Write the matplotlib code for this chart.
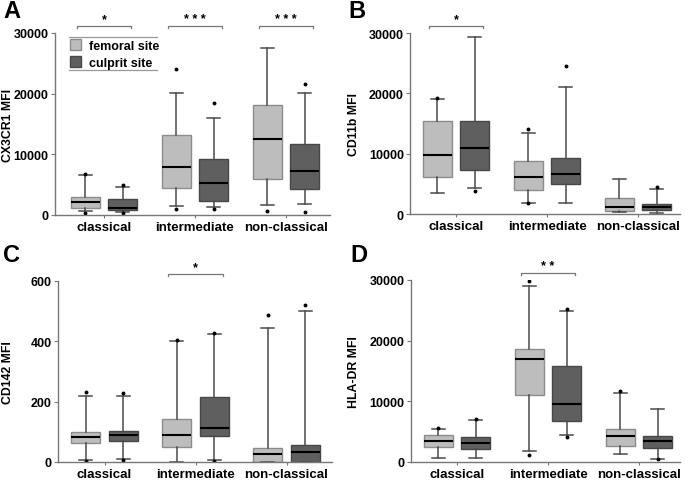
import matplotlib
matplotlib.use("Agg")
import matplotlib.pyplot as plt
from matplotlib.patches import Patch
from matplotlib.lines import Line2D

plt.rcParams['font.family'] = ['Liberation Sans', 'DejaVu Sans']
plt.rcParams['font.weight'] = 'bold'

groups = ["classical", "intermediate", "non-classical"]
sites = ["femoral site", "culprit site"]

# each box: [whislo, q1, median, q3, whishi]
cx3cr1_femoral = [[600, 1100, 2200, 2950, 6650], [1500, 4400, 7850, 13200, 20100], [1700, 6000, 12500, 18100, 27600]]
cx3cr1_culprit = [[450, 800, 1150, 2600, 4600], [1250, 2350, 5300, 9300, 16000], [1800, 4300, 7250, 11750, 20100]]
cx3cr1_femoral_fliers = [[6750, 400], [24100, 1000], [650]]
cx3cr1_culprit_fliers = [[4950, 300], [18400, 1050], [21600, 550]]

cd11b_femoral = [[3450, 6100, 9850, 15350, 19100], [1900, 3950, 6100, 8850, 13500], [280, 550, 1200, 2650, 5750]]
cd11b_culprit = [[4250, 7300, 11000, 15400, 29300], [1900, 4900, 6600, 9300, 21000], [170, 720, 1160, 1660, 4200]]
cd11b_femoral_fliers = [[19250], [14100, 1800], []]
cd11b_culprit_fliers = [[3800], [24500], [4400]]

cd142_femoral = [[6, 64, 83, 99, 219], [0, 51, 89, 143, 401], [0, 0, 25, 47, 445]]
cd142_culprit = [[11, 71, 89, 103, 220], [8, 85, 113, 215, 424], [0, 0, 32, 55, 499]]
cd142_femoral_fliers = [[233, 2], [405], [486]]
cd142_culprit_fliers = [[229, 8], [426, 3], [521]]

hladr_femoral = [[600, 2500, 3400, 4500, 5500], [1800, 11100, 16900, 18700, 29000], [1300, 2600, 4350, 5450, 11300]]
hladr_culprit = [[700, 2200, 3150, 4150, 6900], [4500, 6700, 9600, 15900, 24900], [550, 2300, 3400, 4350, 8750]]
hladr_femoral_fliers = [[5600], [29800, 1100], [11700]]
hladr_culprit_fliers = [[7100], [25300, 4200], [450]]

sig_A = [(0, "*"), (1, "* * *"), (2, "* * *")]
sig_B = [(0, "*")]
sig_C = [(1, "*")]
sig_D = [(1, "* *")]

FEM_FACE, FEM_EDGE = "#bdbdbd", "#8c8c8c"
CUL_FACE, CUL_EDGE = "#5f5f5f", "#474747"

W, H = 685, 481
fig = plt.figure(figsize=(W / 100, H / 100), dpi=100)


def make_ax(left, right, top, bottom):
    return fig.add_axes([left / W, 1 - bottom / H, (right - left) / W, (bottom - top) / H])


def stats(rows, fliers):
    out = []
    for r, f in zip(rows, fliers):
        out.append(dict(whislo=r[0], q1=r[1], med=r[2], q3=r[3], whishi=r[4], fliers=f))
    return out


def panel(ax, fem, cul, femf, culf, ymax, yticks, ylabel, sigs, xl, xr, c0, labx):
    s = 91.0
    pos = list(range(len(groups)))
    for data, fl, off, face, edge in ((fem, femf, -0.205, FEM_FACE, FEM_EDGE),
                                      (cul, culf, 0.205, CUL_FACE, CUL_EDGE)):
        ax.bxp(stats(data, fl), positions=[p + off for p in pos], widths=0.32,
               patch_artist=True, showfliers=True, capwidths=0.14,
               boxprops=dict(facecolor=face, edgecolor=edge, linewidth=1.0),
               medianprops=dict(color="black", linewidth=1.5),
               whiskerprops=dict(color="#4a4a4a", linewidth=1.1),
               capprops=dict(color="#4a4a4a", linewidth=1.1),
               flierprops=dict(marker="o", markersize=1.8, markerfacecolor="black",
                               markeredgecolor="black"))
    ax.set_xlim((xl - c0) / s, (xr - c0) / s)
    ax.set_ylim(0, ymax)
    ax.set_yticks(yticks)
    ax.set_yticklabels([str(t) for t in yticks], fontsize=9, fontweight="bold")
    ax.set_xticks(pos)
    ax.set_xticklabels(groups, fontsize=9.5, fontweight="bold")
    ax.tick_params(axis="y", length=3, width=0.8, color="#777777", pad=1.5)
    ax.tick_params(axis="x", length=2.5, width=0.8, color="#777777", pad=2)
    for sp in ("top", "right"):
        ax.spines[sp].set_visible(False)
    for sp in ("left", "bottom"):
        ax.spines[sp].set_color("#777777")
        ax.spines[sp].set_linewidth(1.0)
    ax.set_ylabel(ylabel, fontsize=8.8, fontweight="bold")
    ax.yaxis.set_label_coords((labx - xl) / (xr - xl), 0.5)
    for g, txt in sigs:
        y0, y1 = ymax * 1.026, ymax * 1.04
        ax.plot([g - 0.3, g - 0.3, g + 0.3, g + 0.3], [y0, y1, y1, y0], color="#777777",
                lw=0.9, clip_on=False)
        ax.text(g, ymax * 1.045, txt, ha="center", va="bottom", fontsize=9, fontweight="bold")
    return ax


axA = make_ax(55, 330, 34, 216)
panel(axA, cx3cr1_femoral, cx3cr1_culprit, cx3cr1_femoral_fliers, cx3cr1_culprit_fliers,
      30000, [0, 10000, 20000, 30000], "CX3CR1 MFI", sig_A, 55, 330, 104, 14)
axB = make_ax(410, 680, 34, 215)
panel(axB, cd11b_femoral, cd11b_culprit, cd11b_femoral_fliers, cd11b_culprit_fliers,
      30000, [0, 10000, 20000, 30000], "CD11b MFI", sig_B, 410, 680, 456, 360)
axC = make_ax(58, 332, 282, 463)
panel(axC, cd142_femoral, cd142_culprit, cd142_femoral_fliers, cd142_culprit_fliers,
      600, [0, 200, 400, 600], "CD142 MFI", sig_C, 58, 332, 104.5, 14)
axD = make_ax(411, 680, 281, 463)
panel(axD, hladr_femoral, hladr_culprit, hladr_femoral_fliers, hladr_culprit_fliers,
      30000, [0, 10000, 20000, 30000], "HLA-DR MFI", sig_D, 411, 680, 457, 360)

for lab, x, y in (("A", 3, 18), ("B", 348, 18), ("C", 3, 262), ("D", 350, 262)):
    fig.text(x / W, 1 - y / H, lab, fontsize=17, fontweight="bold", ha="left", va="baseline")

# legend in panel A
handles = [Patch(facecolor=FEM_FACE, edgecolor=FEM_EDGE, label=sites[0]),
           Patch(facecolor=CUL_FACE, edgecolor=CUL_EDGE, label=sites[1])]
axA.legend(handles=handles, loc="upper left", bbox_to_anchor=(0.055, 0.965), frameon=False,
           handlelength=0.9, handleheight=0.9, handletextpad=0.6, labelspacing=0.35,
           borderaxespad=0, borderpad=0, prop=dict(size=9, weight="bold"))
for yy in (0.978, 0.797):
    axA.add_line(Line2D([0.051, 0.371], [yy, yy], transform=axA.transAxes, color="#999999",
                        lw=0.9, clip_on=False))

fig.savefig("out.png", dpi=100)
